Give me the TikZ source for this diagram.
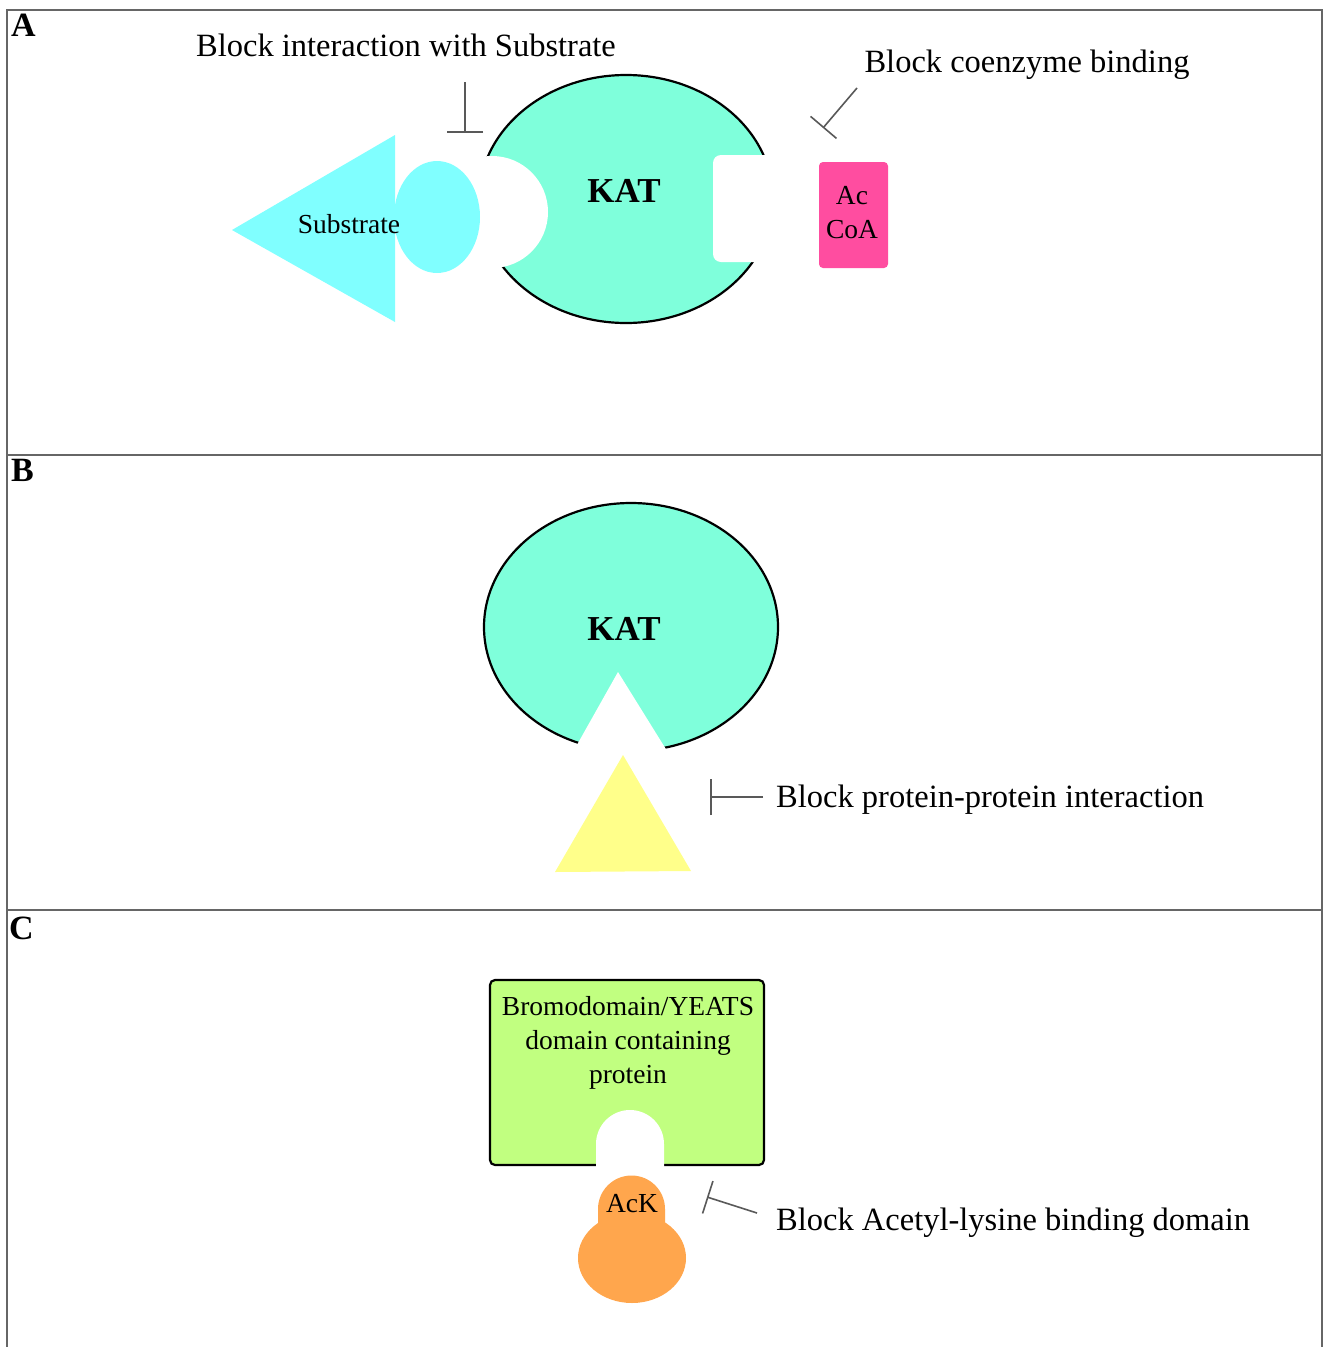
\documentclass[tikz,border=0pt]{standalone}
\usepackage{fontspec}
\setmainfont{Liberation Serif}
\usetikzlibrary{arrows.meta}

\definecolor{katcol}{HTML}{7FFFDB}
\definecolor{subcol}{HTML}{80FFFF}
\definecolor{coacol}{HTML}{FF4DA0}
\definecolor{ppicol}{HTML}{FFFF8A}
\definecolor{brdcol}{HTML}{C1FF80}
\definecolor{ackcol}{HTML}{FFA64D}

\tikzset{
  frame/.style={draw=black!60, line width=2pt},
  enzyme/.style={fill=katcol, draw=black, line width=2.2pt},
  inhib/.style={draw=black!65, line width=1.6pt, -{Bar[width=#1]}},
  lbl/.style={font=\fontsize{32.5}{39}\selectfont, inner sep=0pt},
  small/.style={font=\fontsize{27.5}{34}\selectfont, inner sep=0pt},
  katlbl/.style={font=\fontsize{35}{42}\selectfont\bfseries, inner sep=0pt},
  panel/.style={font=\fontsize{34}{40}\selectfont\bfseries, inner sep=0pt, anchor=north west}
}

\begin{document}
\begin{tikzpicture}[x=1pt, y=-1pt]

\useasboundingbox (0,0) rectangle (1329,1347);
\fill[white] (0,0) rectangle (1329,1347);

% =============================================
% MARCO Y PANELES
% =============================================
\draw[frame] (7,1360) -- (7,10) -- (1322,10) -- (1322,1360);
\draw[frame] (7,455) -- (1322,455);
\draw[frame] (7,910) -- (1322,910);
\node[panel] (pA) at (11,14) {A};
\node[panel] (pB) at (11,459) {B};
\node[panel] (pC) at (9,917) {C};

% =============================================
% PANEL A: KAT, sustrato y Ac-CoA
% =============================================
\path[enzyme] (626,199) ellipse [x radius=147, y radius=124];
% huecos de union (sustrato y coenzima)
\fill[white] (492,212) circle [radius=56];
\fill[white, rounded corners=8pt] (713,155) rectangle (800,262);
\node[katlbl] (katA) at (624,191) {KAT};

% Sustrato
\fill[subcol] (232,230) -- (395,135) -- (395,322) -- cycle;
\fill[subcol] (437,217) ellipse [x radius=43, y radius=56];
\node[small] (sub) at (349,224) {Substrate};

% Ac-CoA
\node[small, fill=coacol, rounded corners=4pt, minimum width=69pt,
      minimum height=106pt, align=center] (acoa) at (853.5,215) {};
\node[small, align=center] (acoatxt) at (852,212.5) {Ac\\CoA};

% Etiquetas con inhibicion
\node[lbl] (lblA1) at (406,45) {Block interaction with Substrate};
\coordinate (inA1s) at (465,82);
\coordinate (inA1e) at (465,133);
\draw[inhib=36pt] (inA1s) -- (inA1e);

\node[lbl] (lblA2) at (1027,65) {Block coenzyme binding};
\coordinate (inA2s) at (857,88);
\coordinate (inA2e) at (823,128);
\draw[inhib=34pt] (inA2s) -- (inA2e);

% =============================================
% PANEL B: interaccion proteina-proteina
% =============================================
\path[enzyme] (631,627) ellipse [x radius=147, y radius=124];
\fill[white] (618,672) -- (560,775) -- (682,775) -- cycle;
\node[katlbl] (katB) at (624,629) {KAT};

% Proteina asociada
\fill[ppicol] (623,755) -- (691,871) -- (555,872) -- cycle;

\node[lbl, anchor=west] (lblB) at (776,800) {Block protein-protein interaction};
\coordinate (inBs) at (763,797);
\coordinate (inBe) at (710,797);
\draw[inhib=36pt] (inBs) -- (inBe);

% =============================================
% PANEL C: bromodominio / YEATS
% =============================================
\node[draw=black, line width=2.2pt, fill=brdcol, rounded corners=5pt,
      minimum width=274pt, minimum height=185pt, inner sep=0pt] (brd) at (627,1072.5) {};
\fill[white] (596,1168) -- (596,1144) arc[start angle=180, end angle=360, radius=34] -- (664,1168) -- cycle;
\node[small, align=center, anchor=north] (brdtxt) at (628,996)
  {Bromodomain/YEATS\\domain containing\\protein};

% Lisina acetilada
\fill[ackcol] (598,1240) -- (598,1209) arc[start angle=180, end angle=360, radius=33.5] -- (665,1240) -- cycle;
\fill[ackcol] (632,1258) ellipse [x radius=54, y radius=45];
\node[small] (ack) at (632,1204) {AcK};

\node[lbl, anchor=west] (lblC) at (776,1223) {Block Acetyl-lysine binding domain};
\coordinate (inCs) at (757,1213);
\coordinate (inCe) at (707,1197);
\draw[inhib=34pt] (inCs) -- (inCe);

\end{tikzpicture}
\end{document}
